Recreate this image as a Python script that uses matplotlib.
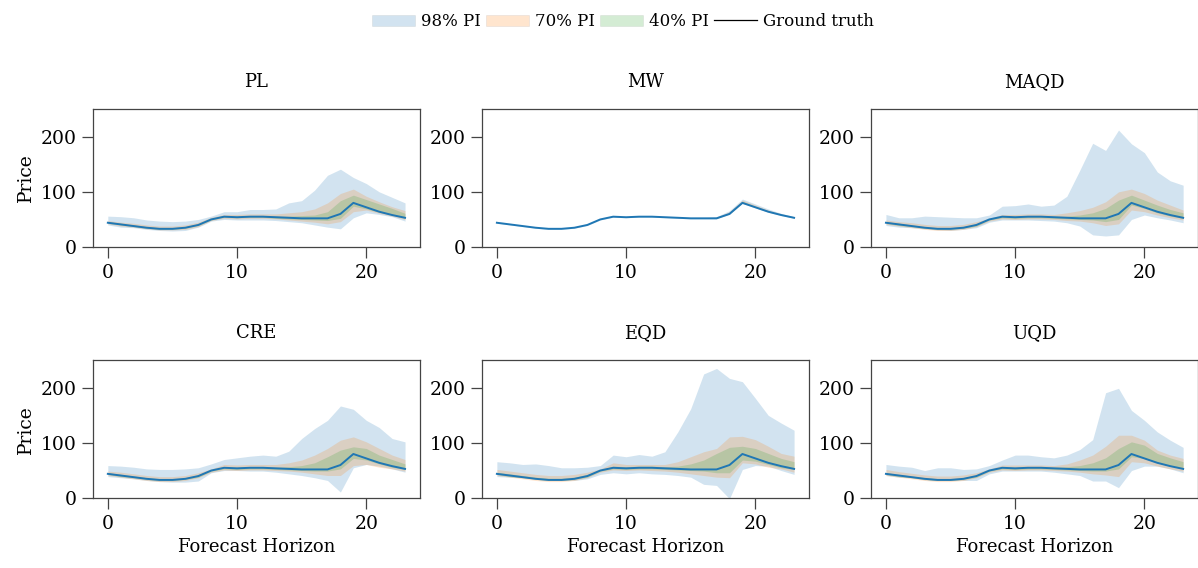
import numpy as np
import matplotlib
matplotlib.use("Agg")
import matplotlib.pyplot as plt
from matplotlib.patches import Patch
from matplotlib.lines import Line2D

plt.rcParams["font.family"] = ["DejaVu Serif"]
plt.rcParams["font.size"] = 13

# forecast horizon (hours)
hours = list(range(24))

# ground truth price, same for every panel
truth = [44, 41, 38, 35, 33, 33, 35, 40, 50, 55, 54, 55, 55, 54, 53, 52, 52, 52, 60, 80, 72, 64, 58, 53]

methods = ["PL", "MW", "MAQD", "CRE", "EQD", "UQD"]

# PL
pl_hi98 = [56, 55, 53, 49, 47, 46, 47, 50, 56, 64, 64, 68, 68, 69, 80, 84, 103, 130, 141, 126, 115, 100, 90, 80]
pl_lo98 = [40, 36, 35, 32, 30, 29, 30, 36, 47, 50, 49, 49, 49, 48, 46, 44, 40, 36, 33, 53, 62, 59, 55, 47]
pl_hi70 = [48, 45, 43, 40, 38, 38, 40, 45, 54, 59, 59, 60, 60, 60, 62, 64, 69, 80, 97, 105, 92, 82, 73, 66]
pl_lo70 = [42, 38, 36, 33, 31, 31, 32, 37, 48, 52, 51, 52, 52, 51, 49, 47, 45, 42, 46, 64, 67, 61, 56, 50]
pl_hi40 = [46, 43, 40, 37, 35, 35, 37, 42, 52, 57, 56, 57, 57, 56, 56, 57, 58, 64, 84, 94, 86, 78, 70, 61]
pl_lo40 = [43, 40, 37, 34, 32, 32, 34, 39, 49, 54, 53, 54, 54, 52, 51, 50, 49, 48, 52, 74, 69, 63, 58, 52]

# MW (intervals almost collapse onto the truth)
mw_hi98 = [45, 42, 39, 36, 34, 34, 36, 41, 51, 56, 55, 56, 56, 55, 54, 53, 53, 55, 66, 87, 78, 69, 61, 55]
mw_lo98 = [43, 40, 37, 34, 32, 32, 34, 39, 49, 54, 53, 54, 54, 53, 52, 51, 51, 51, 59, 79, 71, 63, 57, 52]
mw_hi70 = [44, 41, 38, 35, 33, 33, 35, 40, 50, 55, 54, 55, 55, 54, 53, 52, 52, 54, 64, 85, 76, 67, 60, 54]
mw_lo70 = [44, 41, 38, 35, 33, 33, 35, 40, 50, 55, 54, 55, 55, 54, 53, 52, 52, 52, 60, 80, 72, 64, 58, 53]
mw_hi40 = [44, 41, 38, 35, 33, 33, 35, 40, 50, 55, 54, 55, 55, 54, 53, 52, 52, 53, 62, 83, 74, 66, 59, 54]
mw_lo40 = [44, 41, 38, 35, 33, 33, 35, 40, 50, 55, 54, 55, 55, 54, 53, 52, 52, 52, 60, 80, 72, 64, 58, 53]

# MAQD
maqd_hi98 = [59, 53, 53, 56, 55, 54, 53, 53, 58, 74, 75, 78, 74, 76, 92, 139, 188, 175, 212, 187, 171, 136, 120, 112]
maqd_lo98 = [39, 36, 35, 33, 31, 30, 32, 35, 45, 49, 49, 49, 48, 47, 44, 38, 22, 20, 22, 50, 58, 53, 49, 44]
maqd_hi70 = [49, 46, 44, 41, 39, 39, 41, 46, 52, 59, 59, 60, 60, 59, 62, 66, 72, 82, 100, 105, 97, 85, 76, 67]
maqd_lo70 = [41, 38, 35, 32, 30, 30, 32, 37, 47, 51, 50, 51, 51, 50, 48, 47, 44, 39, 42, 67, 64, 58, 53, 49]
maqd_hi40 = [46, 43, 40, 37, 35, 35, 37, 42, 51, 57, 56, 57, 57, 56, 56, 58, 62, 70, 85, 94, 85, 76, 68, 62]
maqd_lo40 = [43, 39, 37, 34, 32, 32, 34, 38, 49, 53, 52, 53, 53, 52, 51, 50, 49, 46, 50, 76, 70, 62, 56, 52]

# CRE
cre_hi98 = [59, 58, 56, 53, 52, 52, 53, 55, 62, 70, 73, 76, 78, 76, 85, 108, 126, 141, 167, 161, 141, 128, 108, 102]
cre_lo98 = [39, 37, 35, 32, 30, 29, 29, 31, 46, 50, 50, 49, 49, 47, 44, 41, 37, 32, 11, 55, 61, 58, 53, 47]
cre_hi70 = [49, 47, 44, 41, 39, 39, 41, 46, 53, 61, 60, 61, 61, 61, 64, 69, 78, 90, 105, 111, 102, 90, 78, 70]
cre_lo70 = [41, 38, 35, 32, 30, 30, 32, 37, 47, 51, 50, 51, 51, 50, 49, 47, 44, 41, 41, 59, 61, 56, 53, 49]
cre_hi40 = [46, 43, 40, 37, 35, 35, 37, 42, 51, 57, 56, 57, 57, 56, 57, 59, 64, 75, 87, 93, 90, 78, 70, 62]
cre_lo40 = [43, 39, 37, 34, 32, 32, 34, 38, 49, 53, 52, 53, 53, 52, 51, 50, 49, 49, 53, 72, 69, 62, 56, 52]

# EQD
eqd_hi98 = [66, 64, 61, 62, 59, 55, 55, 56, 59, 78, 75, 79, 76, 84, 120, 162, 225, 235, 217, 211, 181, 150, 136, 123]
eqd_lo98 = [39, 38, 37, 35, 33, 32, 32, 35, 43, 46, 44, 46, 44, 43, 41, 38, 25, 23, -1, 52, 59, 58, 50, 43]
eqd_hi70 = [52, 49, 46, 43, 41, 41, 43, 47, 53, 64, 61, 61, 61, 61, 66, 75, 84, 90, 111, 112, 106, 94, 81, 76]
eqd_lo70 = [41, 38, 35, 32, 30, 30, 32, 37, 47, 51, 50, 51, 50, 49, 47, 44, 41, 38, 37, 64, 62, 56, 53, 47]
eqd_hi40 = [47, 44, 41, 38, 36, 36, 38, 43, 51, 58, 57, 58, 58, 57, 58, 62, 69, 81, 92, 94, 90, 81, 72, 66]
eqd_lo40 = [43, 39, 37, 34, 32, 32, 34, 38, 49, 53, 52, 53, 53, 52, 51, 50, 49, 46, 46, 69, 67, 61, 55, 52]

# UQD
uqd_hi98 = [61, 58, 56, 50, 55, 55, 52, 53, 59, 69, 78, 78, 75, 73, 78, 88, 106, 191, 199, 159, 141, 120, 105, 92]
uqd_lo98 = [41, 38, 37, 33, 32, 32, 32, 32, 44, 49, 49, 49, 49, 47, 44, 41, 31, 31, 19, 50, 58, 58, 53, 46]
uqd_hi70 = [52, 48, 45, 42, 40, 40, 42, 46, 53, 60, 60, 60, 60, 59, 62, 69, 78, 94, 114, 114, 105, 87, 78, 72]
uqd_lo70 = [41, 38, 35, 32, 30, 30, 32, 37, 47, 51, 50, 51, 51, 50, 49, 47, 44, 42, 39, 66, 64, 58, 53, 49]
uqd_hi40 = [46, 43, 40, 37, 35, 35, 37, 42, 51, 57, 56, 57, 57, 56, 57, 59, 64, 73, 90, 102, 96, 81, 73, 66]
uqd_lo40 = [43, 39, 37, 34, 32, 32, 34, 38, 49, 53, 52, 53, 53, 52, 51, 50, 49, 49, 53, 75, 72, 64, 58, 53]

bands = {
    "PL": [(pl_lo98, pl_hi98), (pl_lo70, pl_hi70), (pl_lo40, pl_hi40)],
    "MW": [(mw_lo98, mw_hi98), (mw_lo70, mw_hi70), (mw_lo40, mw_hi40)],
    "MAQD": [(maqd_lo98, maqd_hi98), (maqd_lo70, maqd_hi70), (maqd_lo40, maqd_hi40)],
    "CRE": [(cre_lo98, cre_hi98), (cre_lo70, cre_hi70), (cre_lo40, cre_hi40)],
    "EQD": [(eqd_lo98, eqd_hi98), (eqd_lo70, eqd_hi70), (eqd_lo40, eqd_hi40)],
    "UQD": [(uqd_lo98, uqd_hi98), (uqd_lo70, uqd_hi70), (uqd_lo40, uqd_hi40)],
}
band_colors = ["tab:blue", "tab:orange", "tab:green"]
band_labels = ["98% PI", "70% PI", "40% PI"]

fig, axes = plt.subplots(2, 3, figsize=(11.98, 5.68), dpi=100)
fig.subplots_adjust(left=0.0776, right=1.0, bottom=0.123, top=0.808,
                    wspace=0.19, hspace=0.82)

for ax, name in zip(axes.flat, methods):
    for (lo, hi), c in zip(bands[name], band_colors):
        ax.fill_between(hours, lo, hi, color=c, alpha=0.2, linewidth=0)
    ax.plot(hours, truth, color="tab:blue", linewidth=1.4)
    ax.set_title(name, pad=16, fontsize=13)
    ax.set_ylim(0, 250)
    ax.set_yticks([0, 100, 200])
    ax.set_xticks([0, 10, 20])
    ax.tick_params(length=8, width=0.9, color="#444444", pad=4, labelsize=13.5)
    for s in ax.spines.values():
        s.set_color("#444444")
        s.set_linewidth(0.9)

for ax in axes[:, 0]:
    ax.set_ylabel("Price", fontsize=13.5)
for ax in axes[1, :]:
    ax.set_xlabel("Forecast Horizon", fontsize=13)

handles = [Patch(facecolor=c, alpha=0.2, edgecolor="#999999", linewidth=0.5) for c in band_colors]
handles.append(Line2D([0], [0], color="black", linewidth=0.9))
fig.legend(handles, band_labels + ["Ground truth"], loc="upper center",
           bbox_to_anchor=(0.52, 1.003), ncol=4, frameon=False, fontsize=12,
           handlelength=2.6, handletextpad=0.35, columnspacing=0.3)

fig.savefig("out.png", dpi=100)
